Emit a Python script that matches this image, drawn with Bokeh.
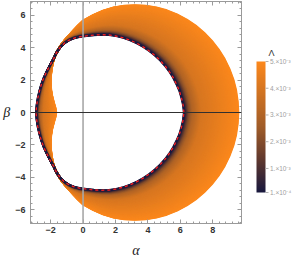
import numpy as np
from bokeh.plotting import figure
from bokeh.layouts import row
from bokeh.core.properties import value
from bokeh.models import (LinearColorMapper, SingleIntervalTicker, LinearAxis, Span, Range1d)
from bokeh.embed import file_html
from bokeh.resources import INLINE

# ---- data ----
lam_min = 1e-4
lam_max = 5e-3
lam_ticks = [1e-4, 1e-3, 2e-3, 3e-3, 4e-3, 5e-3]
lam_tick_labels = ["1.×10⁻⁴", "1.×10⁻³", "2.×10⁻³", "3.×10⁻³", "4.×10⁻³", "5.×10⁻³"]

# upper half of the innermost shadow curve (Λ = 1e-4), right point -> over the top -> left point
inner_alpha = [6.22, 6.17, 6.07, 5.94, 5.76, 5.56, 5.32, 5.05, 4.75, 4.43, 4.08, 3.71, 3.32,
               2.91, 2.48, 2.04, 1.59, 1.13, 0.67, 0.22, -0.22, -0.55, -0.85, -1.12, -1.36,
               -1.56, -1.70, -1.80, -1.97, -2.13, -2.28, -2.43, -2.57, -2.69, -2.79, -2.86, -2.90]
inner_beta = [0.00, 0.46, 0.90, 1.34, 1.75, 2.15, 2.53, 2.89, 3.22, 3.52, 3.80, 4.05, 4.27,
              4.46, 4.61, 4.72, 4.79, 4.80, 4.78, 4.73, 4.67, 4.59, 4.47, 4.30, 4.08,
              3.82, 3.57, 3.34, 3.05, 2.75, 2.45, 2.12, 1.74, 1.32, 0.89, 0.45, 0.00]

# upper half of the outermost shadow curve (Λ = 5e-3)
outer_alpha = [9.57, 9.53, 9.43, 9.26, 9.02, 8.72, 8.35, 7.93, 7.46, 6.94, 6.39, 5.79, 5.17,
               4.52, 3.87, 3.20, 2.53, 1.88, 1.23, 0.61, 0.00, -0.30, -0.60, -0.90, -1.15,
               -1.40, -1.60, -1.80, -1.88, -1.95, -1.99, -2.00, -1.97, -1.90, -1.80, -1.70, -1.66]
outer_beta = [0.00, 0.69, 1.38, 2.05, 2.69, 3.31, 3.89, 4.43, 4.92, 5.36, 5.73, 6.05, 6.30,
              6.48, 6.58, 6.62, 6.58, 6.48, 6.28, 6.00, 5.66, 5.37, 5.05, 4.72, 4.43,
              4.10, 3.75, 3.34, 3.00, 2.62, 2.22, 1.80, 1.38, 0.98, 0.60, 0.26, 0.00]

lam_ref = [1e-4, 1e-3, 2e-3, 3e-3, 4e-3, 5e-3]
frac_ref = [0.0, 0.03, 0.07, 0.14, 0.30, 1.0]

x_major_labels = {-2: "−2", 0: "0", 2: "2", 4: "4", 6: "6", 8: "8"}
y_major_labels = {-6: "−6", -4: "−4", -2: "−2", 0: "0", 2: "2", 4: "4", 6: "6"}

# ---- styling ----
STOPS = [(0.0, (24, 24, 62)), (0.25, (95, 56, 46)), (0.5, (160, 92, 40)), (1.0, (252, 136, 28))]


def blend(t):
    t = min(max(t, 0.0), 1.0)
    for (t0, c0), (t1, c1) in zip(STOPS[:-1], STOPS[1:]):
        if t <= t1:
            u = (t - t0) / (t1 - t0)
            r, g, b = (int(round(c0[i] + (c1[i] - c0[i]) * u)) for i in range(3))
            return "#%02x%02x%02x" % (r, g, b)
    return "#%02x%02x%02x" % STOPS[-1][1]


palette = [blend(i / 255) for i in range(256)]


def closed(a, b):
    xs = list(a) + list(a[::-1][1:])
    ys = list(b) + [-v for v in b[::-1][1:]]
    return np.array(xs), np.array(ys)


ia, ib = closed(inner_alpha, inner_beta)
oa, ob = closed(outer_alpha, outer_beta)

n_curves = 120
fracs = np.linspace(1.0, 0.0, n_curves)
lams = np.interp(fracs, frac_ref, lam_ref)
cx = [list(ia + f * (oa - ia)) for f in fracs]
cy = [list(ib + f * (ob - ib)) for f in fracs]
ccol = [blend((l - lam_min) / (lam_max - lam_min)) for l in lams]

FRAME = "#9a9a9a"
TICKFONT = "Liberation Sans"
FRAME_H = 222

p = figure(frame_width=211, frame_height=FRAME_H,
           x_range=Range1d(-3.24, 9.77), y_range=Range1d(-6.85, 6.85),
           output_backend="svg", toolbar_location=None,
           min_border_left=20, min_border_right=2, min_border_top=1, min_border_bottom=0)
p.grid.visible = False
p.outline_line_color = FRAME
p.background_fill_color = "white"
p.border_fill_color = "white"

p.multi_line(xs=cx, ys=cy, line_color=ccol, line_width=2.2, line_join="round")
p.line(list(ia), list(ib), line_color="#1a1a40", line_width=1.2)
p.line(list(ia), list(ib), line_color="#ff1f1f", line_width=1.3, line_dash="3 3")

p.add_layout(Span(location=0, dimension="height", line_color="#a8a8a8", line_width=1.6))
p.add_layout(Span(location=0, dimension="width", line_color="#303030", line_width=1))


def style_axis(ax, labels):
    ax.ticker = SingleIntervalTicker(interval=2, num_minor_ticks=5)
    ax.axis_line_color = FRAME
    ax.major_tick_line_color = FRAME
    ax.minor_tick_line_color = FRAME
    ax.major_tick_in = 4
    ax.major_tick_out = 0
    ax.minor_tick_in = 2
    ax.minor_tick_out = 0
    if labels is None:
        ax.major_label_text_font_size = "1px"
        ax.major_label_text_color = None
        ax.major_label_standoff = 0
    else:
        ax.major_label_overrides = labels
        ax.major_label_text_font = TICKFONT
        ax.major_label_text_font_size = "9px"
        ax.major_label_text_font_style = "bold"
        ax.major_label_text_color = "#333333"


style_axis(p.xaxis[0], x_major_labels)
p.xaxis[0].major_label_standoff = 3
p.xaxis[0].axis_label = "α"
p.xaxis[0].axis_label_text_font = "Liberation Serif"
p.xaxis[0].axis_label_text_font_style = "italic"
p.xaxis[0].axis_label_text_font_size = "14px"
p.xaxis[0].axis_label_text_color = "#222222"
p.xaxis[0].axis_label_standoff = 7

yax = p.yaxis[0]
style_axis(yax, y_major_labels)
yax.major_label_standoff = 5
yax.axis_label = "β"
yax.axis_label_text_font = "Liberation Serif"
yax.axis_label_text_font_style = "italic"
yax.axis_label_text_font_size = "14px"
yax.axis_label_text_color = "#222222"
yax.axis_label_standoff = 2
try:
    yax.axis_label_orientation = "horizontal"
except Exception:
    pass

top_ax = LinearAxis()
style_axis(top_ax, None)
p.add_layout(top_ax, "above")
right_ax = LinearAxis()
style_axis(right_ax, None)
p.add_layout(right_ax, "right")

# ---- colour bar in its own small panel; its frame lines up with the main frame ----
BAR_TOP, BAR_BOTTOM = 60, 191        # pixel rows of the bar, counted from the frame top
per_px = (lam_max - lam_min) / (BAR_BOTTOM - BAR_TOP)
y_hi = lam_max + BAR_TOP * per_px
y_lo = lam_min - (FRAME_H - BAR_BOTTOM) * per_px
BAR_X = 13

p2 = figure(frame_width=50, frame_height=FRAME_H, x_range=Range1d(0, 50),
            y_range=Range1d(y_lo, y_hi),
            x_axis_type=None, y_axis_type=None, output_backend="svg", toolbar_location=None,
            min_border_left=0, min_border_right=0, min_border_top=1, min_border_bottom=0)
p2.grid.visible = False
p2.outline_line_color = None
p2.background_fill_color = "white"
p2.border_fill_color = "white"

mapper = LinearColorMapper(palette=palette, low=lam_min, high=lam_max)
bar_vals = np.linspace(lam_min, lam_max, 256).reshape(256, 1)
p2.image(image=[bar_vals], x=BAR_X, y=lam_min, dw=9, dh=lam_max - lam_min, color_mapper=mapper)
p2.segment(x0=BAR_X + 9, y0=lam_ticks, x1=BAR_X + 12, y1=lam_ticks,
           line_color="#b0b0b0", line_width=1)
p2.text(x=BAR_X + 13.5, y=lam_ticks, text=lam_tick_labels, text_font=value(TICKFONT),
        text_font_size="6.5px", text_color="#a0a0a0", text_align="left", text_baseline="middle")
p2.text(x=[BAR_X + 15], y=[lam_max + 9 * per_px], text=["Λ"], text_font=value(TICKFONT),
        text_font_size="9px", text_color="#333333", text_align="center",
        text_baseline="middle")

layout = row(p, p2)
open("out.html", "w").write(file_html(layout, INLINE))
